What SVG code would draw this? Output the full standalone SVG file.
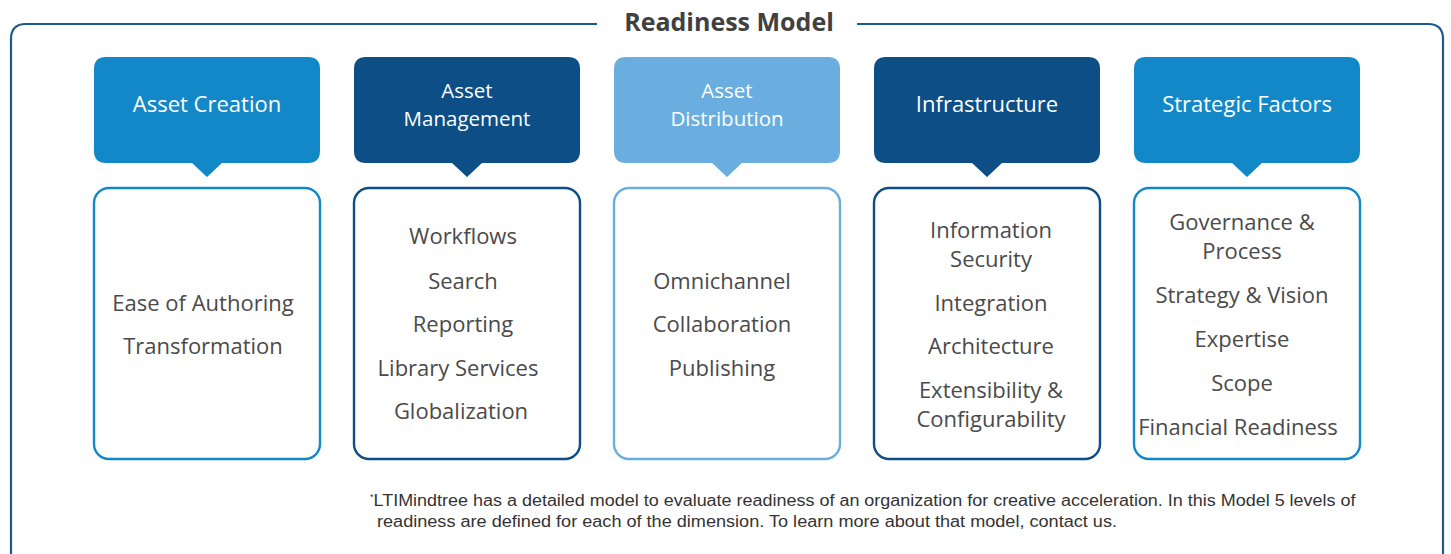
<svg xmlns="http://www.w3.org/2000/svg" width="1451" height="554" viewBox="0 0 1451 554">
  <style>
    .frame { fill: none; stroke: #1a5a8f; stroke-width: 2.2; }
    .title { font-family: "Open Sans", "Liberation Sans", sans-serif; font-weight: bold; font-size: 25px; fill: #404040; text-anchor: middle; }
    .head { font-family: "Open Sans", "Noto Sans", sans-serif; font-size: 22px; fill: #ffffff; text-anchor: middle; }
    .head2 { font-family: "Open Sans", "Noto Sans", sans-serif; font-size: 20.5px; fill: #ffffff; text-anchor: middle; }
    .item { font-family: "Open Sans", "Noto Sans", sans-serif; font-size: 22px; fill: #4a4a4a; text-anchor: middle; }
    .note { font-family: "Liberation Sans", sans-serif; font-size: 16px; fill: #333333; }
    .card { fill: #ffffff; stroke-width: 2.4; }
    .c1 { fill: #1288c8; }
    .c2 { fill: #0c4e85; }
    .c3 { fill: #69aede; }
    .s1 { stroke: #1288c8; }
    .s2 { stroke: #0c4e85; }
    .s3 { stroke: #69aede; }
  </style>

  <rect width="1451" height="554" fill="#ffffff"/>

  <!-- outer frame with a gap for the title -->
  <path class="frame" d="M597 24 H26 Q11 24 11 39 V560 M857 24 H1428 Q1443 24 1443 39 V560"/>
  <text class="title" x="729" y="31">Readiness Model</text>

  <g id="asset-creation">
    <path class="c1" d="M106 57 H308 Q320 57 320 69 V151 Q320 163 308 163 H222 L207 177 L192 163 H106 Q94 163 94 151 V69 Q94 57 106 57 Z"/>
    <text class="head" x="207" y="112">Asset Creation</text>
    <rect class="card s1" x="94" y="188" width="226" height="271" rx="15"/>
    <text class="item" x="203" y="311">Ease of Authoring</text>
    <text class="item" x="203" y="354">Transformation</text>
  </g>

  <g id="asset-management">
    <path class="c2" d="M366 57 H568 Q580 57 580 69 V151 Q580 163 568 163 H482 L467 177 L452 163 H366 Q354 163 354 151 V69 Q354 57 366 57 Z"/>
    <text class="head2"><tspan x="467" y="98">Asset</tspan><tspan x="467" y="126">Management</tspan></text>
    <rect class="card s2" x="354" y="188" width="226" height="271" rx="15"/>
    <text class="item" x="463" y="244">Workflows</text>
    <text class="item" x="463" y="289">Search</text>
    <text class="item" x="463" y="332">Reporting</text>
    <text class="item" x="458" y="376">Library Services</text>
    <text class="item" x="461" y="419">Globalization</text>
  </g>

  <g id="asset-distribution">
    <path class="c3" d="M626 57 H828 Q840 57 840 69 V151 Q840 163 828 163 H742 L727 177 L712 163 H626 Q614 163 614 151 V69 Q614 57 626 57 Z"/>
    <text class="head2"><tspan x="727" y="98">Asset</tspan><tspan x="727" y="126">Distribution</tspan></text>
    <rect class="card s3" x="614" y="188" width="226" height="271" rx="15"/>
    <text class="item" x="722" y="289">Omnichannel</text>
    <text class="item" x="722" y="332">Collaboration</text>
    <text class="item" x="722" y="376">Publishing</text>
  </g>

  <g id="infrastructure">
    <path class="c2" d="M886 57 H1088 Q1100 57 1100 69 V151 Q1100 163 1088 163 H1002 L987 177 L972 163 H886 Q874 163 874 151 V69 Q874 57 886 57 Z"/>
    <text class="head" x="987" y="112">Infrastructure</text>
    <rect class="card s2" x="874" y="188" width="226" height="271" rx="15"/>
    <text class="item"><tspan x="991" y="238">Information</tspan><tspan x="991" y="267">Security</tspan></text>
    <text class="item" x="991" y="311">Integration</text>
    <text class="item" x="991" y="354">Architecture</text>
    <text class="item"><tspan x="991" y="398">Extensibility &amp;</tspan><tspan x="991" y="427">Configurability</tspan></text>
  </g>

  <g id="strategic-factors">
    <path class="c1" d="M1146 57 H1348 Q1360 57 1360 69 V151 Q1360 163 1348 163 H1262 L1247 177 L1232 163 H1146 Q1134 163 1134 151 V69 Q1134 57 1146 57 Z"/>
    <text class="head" x="1247" y="112">Strategic Factors</text>
    <rect class="card s1" x="1134" y="188" width="226" height="271" rx="15"/>
    <text class="item"><tspan x="1242" y="230">Governance &amp;</tspan><tspan x="1242" y="259">Process</tspan></text>
    <text class="item" x="1242" y="303">Strategy &amp; Vision</text>
    <text class="item" x="1242" y="347">Expertise</text>
    <text class="item" x="1242" y="391">Scope</text>
    <text class="item" x="1238" y="435">Financial Readiness</text>
  </g>

  <!-- footnote -->
  <text class="note" x="370" y="506"><tspan font-size="9" dy="-6">*</tspan><tspan dy="6" textLength="982" lengthAdjust="spacingAndGlyphs">LTIMindtree has a detailed model to evaluate readiness of an organization for creative acceleration. In this Model 5 levels of</tspan></text>
  <text class="note" x="377" y="527" textLength="740" lengthAdjust="spacingAndGlyphs">readiness are defined for each of the dimension. To learn more about that model, contact us.</text>
</svg>
